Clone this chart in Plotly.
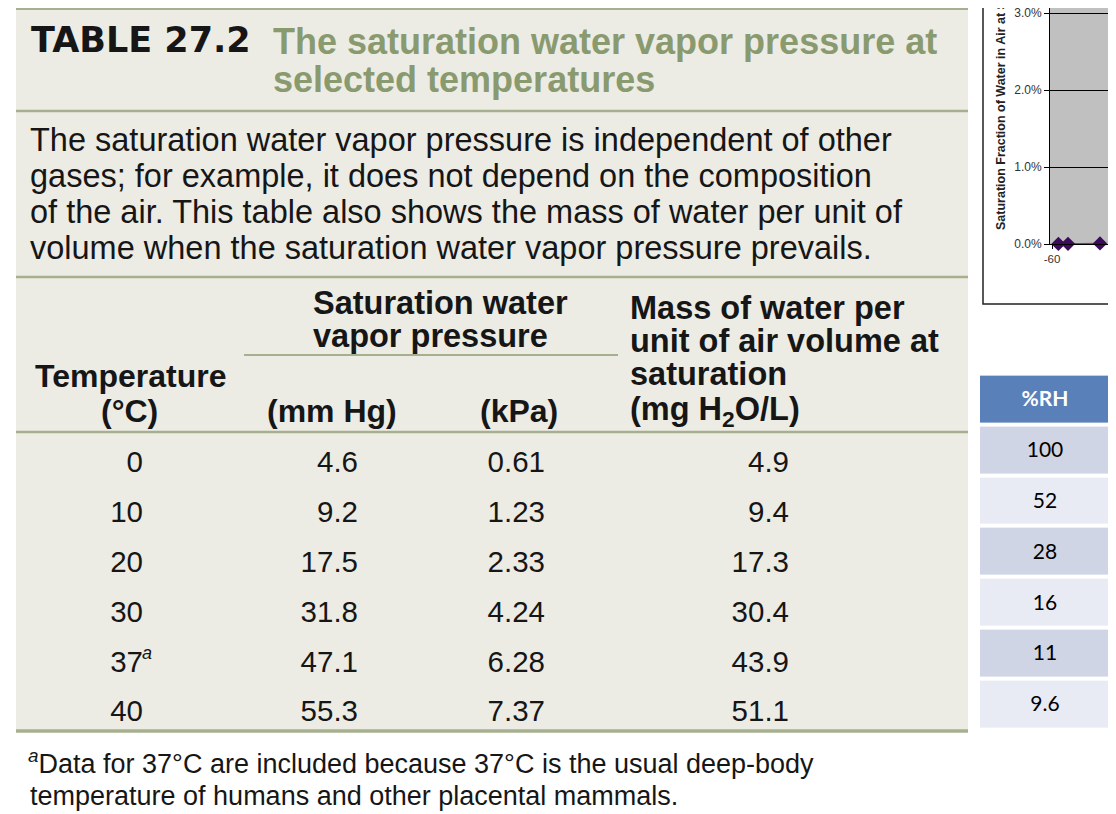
import plotly.graph_objects as go

W, H = 1116, 814
OFF = 8  # the page body adds 8px before the figure starts

# textbook table 27.2
temps = [0, 10, 20, 30, 37, 40]
p_mmhg = [4.6, 9.2, 17.5, 31.8, 47.1, 55.3]
p_kpa = [0.61, 1.23, 2.33, 4.24, 6.28, 7.37]
mass_water = [4.9, 9.4, 17.3, 30.4, 43.9, 51.1]
footnote_row = 4  # the 37 row gets the "a" mark

# %RH column next to it
rh_header = "%RH"
rh_values = [100, 52, 28, 16, 11, 9.6]

# corner of the excel chart that peeks in at top right
sat_temp = [-58, -55, -45]
sat_frac = [0.00001, 0.00002, 0.00007]
sat_xticks = [-60, -40]
sat_yticks = [0.0, 0.01, 0.02, 0.03]

INK = "#161616"
GREEN = "#8a9a6f"
RULE = "#a6b08f"
PANEL = "#ecece5"
SANS = "Liberation Sans, Arial, sans-serif"
NARROW = "Liberation Sans Narrow, Liberation Sans, sans-serif"


# positions below are in screen pixels, converted to paper fractions here
def fx(x):
    return (x - OFF) / W


def fy(y):
    return 1 - (y - OFF) / H


def txt(s, x, y, size, color=INK, anchor="left", family=SANS):
    return dict(text=s, x=fx(x), y=fy(y), xref="paper", yref="paper",
                xanchor=anchor, yanchor="middle", showarrow=False,
                font=dict(size=size, color=color, family=family))


def hline(y, x0=16, x1=968, width=2.5):
    return dict(type="line", xref="paper", yref="paper",
                x0=fx(x0), x1=fx(x1), y0=fy(y), y1=fy(y),
                line=dict(color=RULE, width=width))


fig = go.Figure()

# value columns, right aligned on these x positions
rows = list(range(len(temps)))
cols = [
    (143, [f"{t}" for t in temps]),
    (358, [f"{v:.1f}" for v in p_mmhg]),
    (545, [f"{v:.2f}" for v in p_kpa]),
    (789, [f"{v:.1f}" for v in mass_water]),
]
for xpos, labels in cols:
    fig.add_trace(go.Scatter(
        x=[xpos] * len(rows), y=rows, text=labels, mode="text",
        textposition="middle left",
        textfont=dict(size=29.5, family=SANS, color=INK),
        xaxis="x2", yaxis="y2", hoverinfo="skip", showlegend=False,
    ))

fig.add_trace(go.Scatter(
    x=sat_temp, y=sat_frac, mode="lines+markers", cliponaxis=False,
    line=dict(color="#9a3474", width=1.5),
    marker=dict(symbol="diamond", size=11, color="#3c0b5c"),
    hoverinfo="skip", showlegend=False,
))

# %RH column as a one-column heatmap: header + alternating bands
rh_text = [[f"<span style='color:white'><b>{rh_header}</b></span>"]] + [[f"{v:g}"] for v in rh_values]
rh_band = [[2]] + [[i % 2] for i in range(len(rh_values))]
fig.add_trace(go.Heatmap(
    z=rh_band, text=rh_text, texttemplate="%{text}",
    textfont=dict(size=21, color="black", family="Lato, sans-serif"),
    colorscale=[[0, "#cfd5e4"], [0.5, "#e8ebf4"], [1, "#5a80ba"]],
    zmin=0, zmax=2, showscale=False, ygap=4, hoverinfo="skip",
    xaxis="x3", yaxis="y3",
))

# row geometry of the big table: row 0 centred at y=464px, pitch 49.8px
t_top = 465 - 24.9
t_bot = 465 + 5 * 49.8 + 24.9
# %RH rows: header centred at 399, pitch 50.8
r_top = 399 - 25.4
r_bot = 399 + 6 * 50.8 + 25.4

shapes = [
    dict(type="rect", xref="paper", yref="paper", layer="below",
         x0=fx(16), x1=fx(968), y0=fy(731), y1=1,
         fillcolor=PANEL, line=dict(width=0)),
    hline(9, width=2), hline(111), hline(277), hline(432), hline(731, width=3.5),
    hline(355, 244, 618, width=2),
    # excel chart frame and grey plot area
    dict(type="rect", xref="paper", yref="paper", x0=fx(983), x1=1.05,
         y0=fy(304), y1=1.05, line=dict(color="#222", width=1.5)),
    dict(type="rect", xref="x domain", yref="y domain", layer="below",
         x0=0, x1=1, y0=0, y1=1.05, fillcolor="#c0c0c0", line=dict(width=0)),
]

annotations = [
    txt("<b>TABLE 27.2</b>", 29, 40, 35, family="DejaVu Sans, sans-serif"),
    txt("<b>The saturation water vapor pressure at</b>", 271, 41, 36, GREEN),
    txt("<b>selected temperatures</b>", 271, 80, 36, GREEN),
    txt("The saturation water vapor pressure is independent of other", 28, 140, 32.5),
    txt("gases; for example, it does not depend on the composition", 28, 176, 32.5),
    txt("of the air. This table also shows the mass of water per unit of", 28, 212, 32.5),
    txt("volume when the saturation water vapor pressure prevails.", 28, 248, 32.5),
    txt("<b>Saturation water</b>", 311, 303, 32.5),
    txt("<b>vapor pressure</b>", 311, 336, 32.5),
    txt("<b>Temperature</b>", 130, 376, 32, anchor="center"),
    txt("<b>(°C)</b>", 129, 411, 32, anchor="center"),
    txt("<b>(mm Hg)</b>", 332, 411, 32, anchor="center"),
    txt("<b>(kPa)</b>", 519, 411, 32, anchor="center"),
    txt("<b>Mass of water per</b>", 628, 308, 32.5),
    txt("<b>unit of air volume at</b>", 628, 341, 32.5),
    txt("<b>saturation</b>", 628, 374, 32.5),
    txt("<b>(mg H<sub>2</sub>O/L)</b>", 628, 411, 32.5),
    txt("<sup><i>a</i></sup>Data for 37°C are included because 37°C is the usual deep-body", 26, 762, 27),
    txt("temperature of humans and other placental mammals.", 28, 796, 27),
    dict(text="<i>a</i>", x=cols[0][0] - 3, y=footnote_row, xref="x2", yref="y2",
         xanchor="left", yanchor="middle", yshift=11, showarrow=False,
         font=dict(size=18, color=INK, family=SANS)),
    # rotated y title of the excel chart, running off the top
    dict(text="<b>Saturation Fraction of Water in Air at Sea Level</b>",
         x=fx(1001), y=fy(232), xref="paper", yref="paper",
         xanchor="center", yanchor="bottom", textangle=-90, showarrow=False,
         font=dict(size=12.5, color="#222", family=NARROW)),
]

px_per_deg = 3.2
y_zero = 244 - OFF      # 0.0% line, figure pixels
y_three = 5             # keep the 3.0% label inside the figure
fig.update_layout(
    width=W, height=H,
    margin=dict(l=0, r=0, t=0, b=0, autoexpand=False),
    paper_bgcolor="white", plot_bgcolor="rgba(0,0,0,0)",
    shapes=shapes, annotations=annotations,
    xaxis=dict(domain=[fx(1050), 1],
               range=[-60 - 2 / px_per_deg, -60 + (W + OFF - 1052) / px_per_deg],
               tickvals=sat_xticks, ticktext=[f"{v}" for v in sat_xticks],
               showgrid=False, zeroline=False, showline=True, linecolor="black",
               ticks="outside", ticklen=4, tickcolor="black", ticklabeloverflow="allow",
               tickfont=dict(size=11.5, color="#333", family=NARROW), anchor="y"),
    yaxis=dict(domain=[fy(244), 1], range=[0, 0.03 * y_zero / (y_zero - y_three)],
               tickvals=sat_yticks, tickformat=".1%", ticklabeloverflow="allow",
               showgrid=True, gridcolor="black", gridwidth=1,
               zeroline=False, showline=True, linecolor="black",
               ticks="outside", ticklen=5, tickcolor="black",
               tickfont=dict(size=12, color="#333", family=NARROW), anchor="x"),
    xaxis2=dict(domain=[0, 1], range=[OFF, W + OFF], visible=False, anchor="y2"),
    yaxis2=dict(domain=[fy(t_bot), fy(t_top)], range=[len(temps) - 0.5, -0.5],
                visible=False, anchor="x2"),
    xaxis3=dict(domain=[fx(980), fx(1110)], range=[-0.5, 0.5], visible=False, anchor="y3"),
    yaxis3=dict(domain=[fy(r_bot), fy(r_top)], range=[len(rh_values) + 0.5, -0.5],
                visible=False, anchor="x3"),
)

fig.write_html("out.html")
